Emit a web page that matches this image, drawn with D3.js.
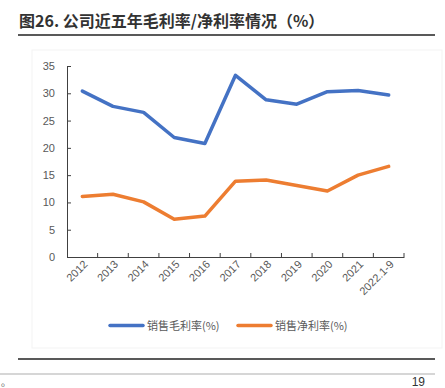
<!DOCTYPE html>
<html><head><meta charset="utf-8">
<script src="https://cdn.jsdelivr.net/npm/d3@7"></script>
<style>body{margin:0;background:#fff}svg{display:block}</style>
</head><body>
<svg id="c" width="445" height="388"></svg>
<script>
const categories = ["2012","2013","2014","2015","2016","2017","2018","2019","2020","2021","2022.1-9"];
const grossMargin = [30.4,27.6,26.5,21.9,20.8,33.3,28.8,28.0,30.3,30.5,29.7];
const netMargin = [11.1,11.5,10.1,6.9,7.5,13.9,14.1,13.1,12.1,15.0,16.6];
const yTicks = [0,5,10,15,20,25,30,35];
const seriesNames = ["销售毛利率(%)","销售净利率(%)"];
const colors = ["#4472C4","#ED7D31"];
const title = "图26. 公司近五年毛利率/净利率情况（%）";

const svg = d3.select("#c");
const font = "'Liberation Sans', Arial, sans-serif";
const cjk = "'Noto Sans CJK SC', sans-serif";

// title
svg.append("text").attr("x",19).attr("y",27).attr("font-family",cjk).attr("font-weight","bold")
  .attr("font-size",16).attr("fill","#333").text(title);
svg.append("line").attr("x1",18).attr("x2",435).attr("y1",35).attr("y2",35).attr("stroke","#222").attr("stroke-width",1.5);

// faint chart area border
svg.append("rect").attr("x",32).attr("y",50).attr("width",410).attr("height",298).attr("fill","none").attr("stroke","#f3f3f3");

const x = d3.scaleBand().domain(categories).range([67,404]);
const y = d3.scaleLinear().domain([0,35]).range([257,66]);

const yAxis = svg.append("g").attr("transform","translate(67,0)")
  .call(d3.axisLeft(y).tickValues(yTicks).tickSize(-4).tickPadding(12));
yAxis.selectAll("text").attr("font-family",font).attr("font-size",11).attr("fill","#595959");
yAxis.selectAll("line,path").attr("stroke","#404040");

const xAxis = svg.append("g").attr("transform","translate(0,257)")
  .call(d3.axisBottom(x).tickSize(0).tickPadding(6));
xAxis.selectAll(".tick").remove();
xAxis.select("path").attr("stroke","#404040");
// tick marks at band boundaries
const bounds = categories.map(c=>x(c)).concat([x.range()[1]]);
svg.append("g").selectAll("line").data(bounds.slice(1)).join("line")
  .attr("x1",d=>d).attr("x2",d=>d).attr("y1",257).attr("y2",253).attr("stroke","#404040");
svg.append("g").selectAll("text").data(categories).join("text")
  .attr("transform",d=>`translate(${x(d)+x.bandwidth()/2+6},${265}) rotate(-45)`)
  .attr("text-anchor","end").attr("font-family",font).attr("font-size",11).attr("fill","#595959").text(d=>d);

const line = d3.line().x((d,i)=>x(categories[i])+x.bandwidth()/2).y(d=>y(d));
[grossMargin, netMargin].forEach((s,k)=>{
  svg.append("path").datum(s).attr("d",line).attr("fill","none").attr("stroke",colors[k])
    .attr("stroke-width",3.5).attr("stroke-linejoin","round").attr("stroke-linecap","round");
});

// legend
const lg = [{x:110,c:colors[0],t:seriesNames[0]},{x:238,c:colors[1],t:seriesNames[1]}];
lg.forEach(l=>{
  svg.append("line").attr("x1",l.x).attr("x2",l.x+33).attr("y1",325.5).attr("y2",325.5)
    .attr("stroke",l.c).attr("stroke-width",3.5).attr("stroke-linecap","round");
  svg.append("text").attr("x",l.x+37).attr("y",330).attr("font-family",cjk).attr("font-size",11)
    .attr("fill","#595959").text(l.t);
});

// bottom lines
svg.append("line").attr("x1",18).attr("x2",435).attr("y1",359).attr("y2",359).attr("stroke","#222").attr("stroke-width",1.5);
svg.append("line").attr("x1",0).attr("x2",435).attr("y1",374).attr("y2",374).attr("stroke","#c8c8c8").attr("stroke-width",1.5);
svg.append("text").attr("x",425).attr("y",386).attr("text-anchor","end").attr("font-family",font).attr("font-size",12).attr("fill","#333").text("19");
svg.append("text").attr("x",1).attr("y",386).attr("font-family",cjk).attr("font-size",10).attr("fill","#555").text("。");
</script>
</body></html>
